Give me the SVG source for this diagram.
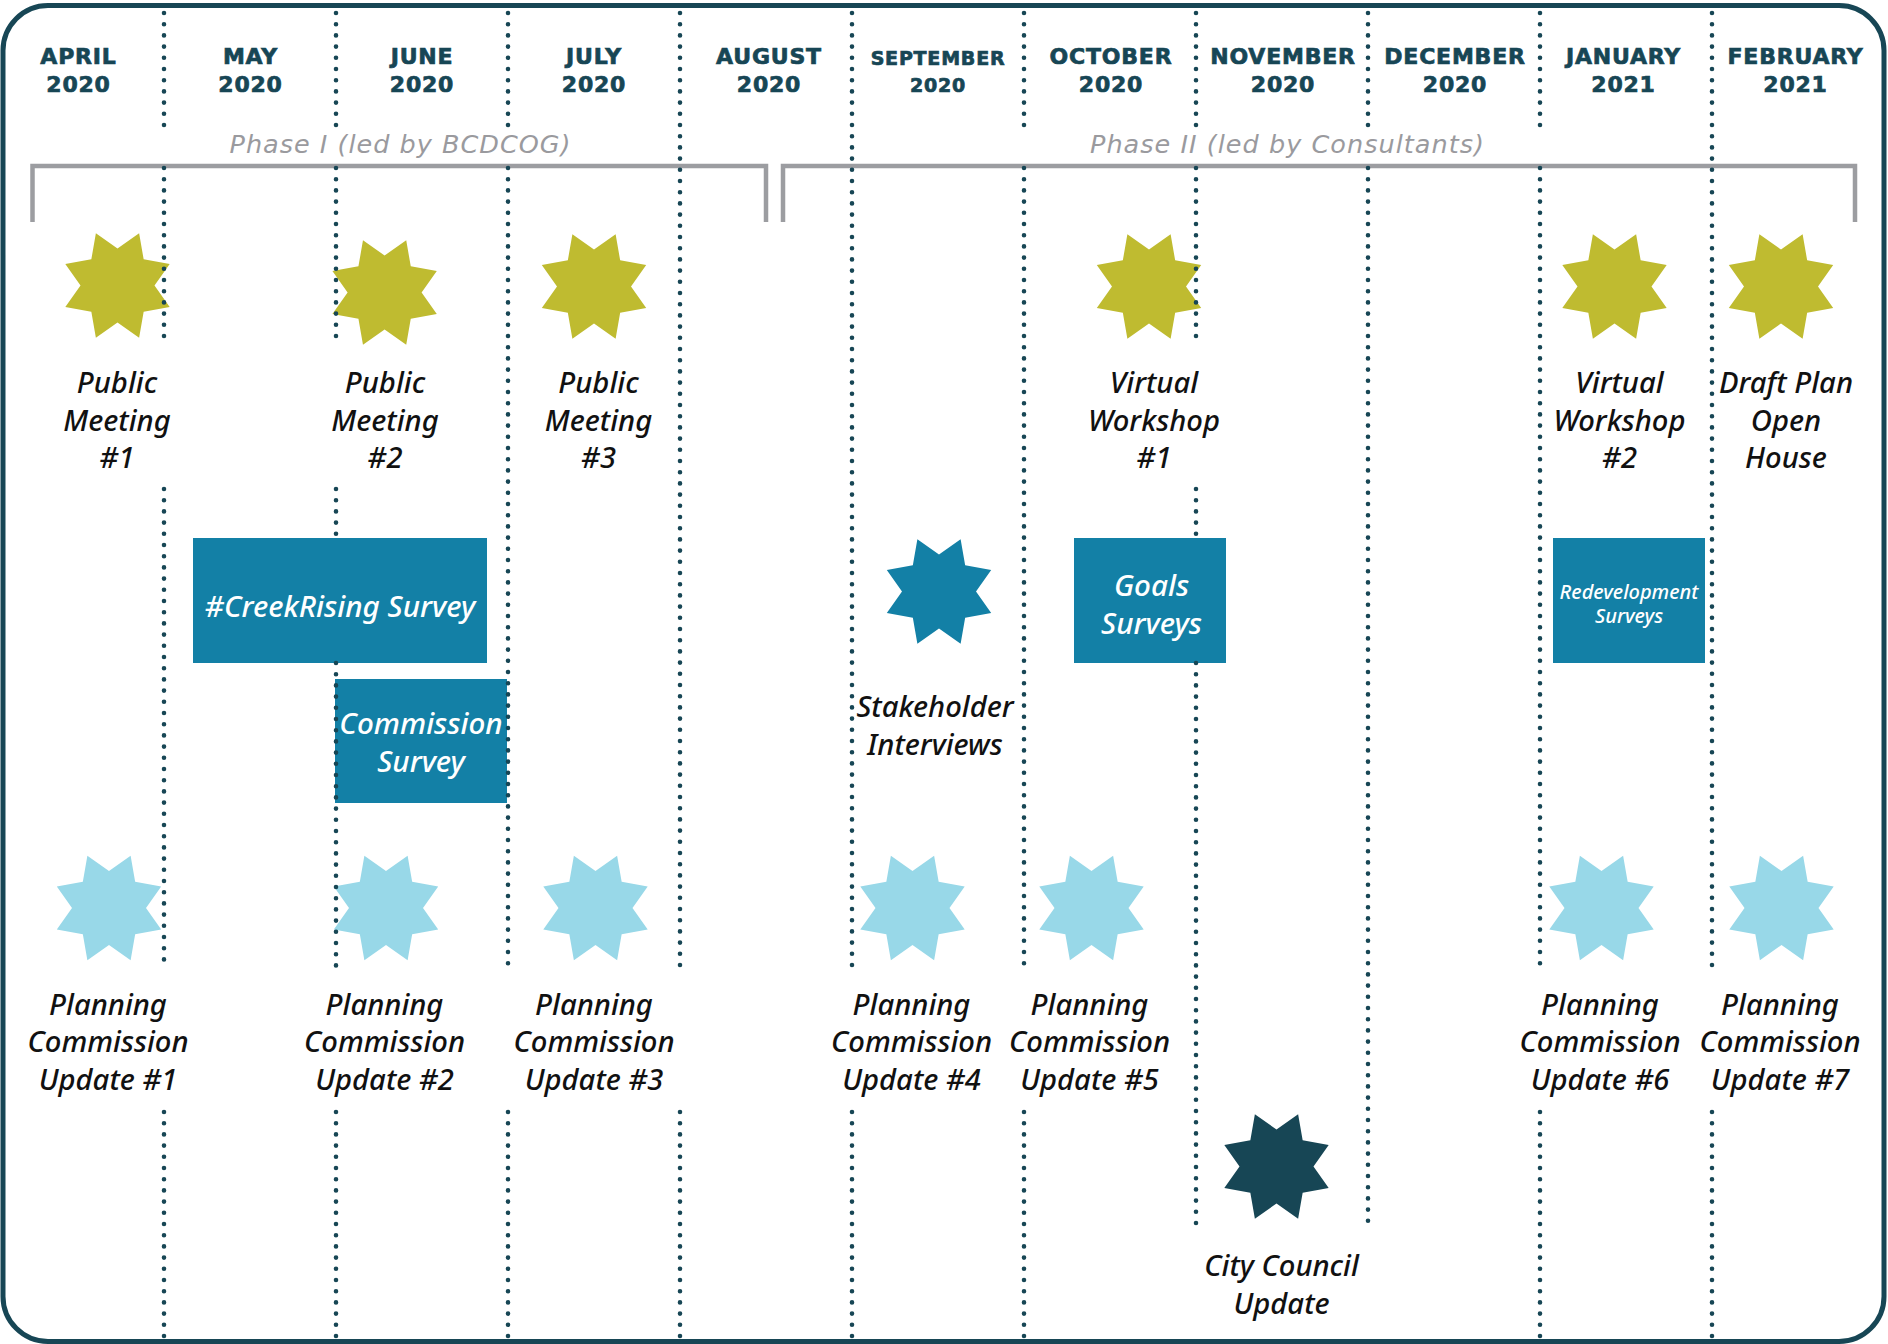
<svg xmlns="http://www.w3.org/2000/svg" xmlns:xlink="http://www.w3.org/1999/xlink" width="1888" height="1344" viewBox="0 0 1888 1344">
<style>
.hdr{font-family:"DejaVu Sans","Liberation Sans",sans-serif;font-weight:bold;font-size:22px;fill:#174655;stroke:#174655;stroke-width:0.7px;text-anchor:middle;letter-spacing:0.8px}
.hdr.sm{font-size:19px}
.phase{font-family:"DejaVu Sans","Liberation Sans",sans-serif;font-style:oblique;font-size:25.5px;fill:#9a9a9e;text-anchor:middle}
.lbl{font-family:"Noto Sans","Open Sans","Liberation Sans",sans-serif;font-style:italic;font-weight:500;font-size:29.2px;fill:#111111;text-anchor:middle}
.wlbl{font-family:"Noto Sans","Open Sans","Liberation Sans",sans-serif;font-style:italic;font-weight:500;font-size:29.6px;fill:#ffffff;text-anchor:middle}
.wlbl.sm{font-size:20px}
.box{fill:#1380a6}
.olive{fill:#bfbb30}
.teal{fill:#1380a6}
.light{fill:#98d8e8}
.dark{fill:#174655}
.bracket{fill:none;stroke:#9c9da1;stroke-width:4.5}
.dots{stroke:#174655;stroke-width:4.6;stroke-linecap:round;stroke-dasharray:0 11.2;fill:none}
</style>
<defs>
<path id="star" d="M0,-37 L21.62,-52.2 L26.16,-26.16 L52.2,-21.62 L37,0 L52.2,21.62 L26.16,26.16 L21.62,52.2 L0,37 L-21.62,52.2 L-26.16,26.16 L-52.2,21.62 L-37,0 L-52.2,-21.62 L-26.16,-26.16 L-21.62,-52.2 Z"/>
</defs>
<rect x="3" y="5.5" width="1881" height="1336" rx="45" ry="45" fill="#ffffff" stroke="#174655" stroke-width="5"/>

<g id="headers">
<text class="hdr" x="78.5" y="64">APRIL</text><text class="hdr" x="78.5" y="92">2020</text>
<text class="hdr" x="250.5" y="64">MAY</text><text class="hdr" x="250.5" y="92">2020</text>
<text class="hdr" x="422" y="64">JUNE</text><text class="hdr" x="422" y="92">2020</text>
<text class="hdr" x="594" y="64">JULY</text><text class="hdr" x="594" y="92">2020</text>
<text class="hdr" x="769" y="64">AUGUST</text><text class="hdr" x="769" y="92">2020</text>
<text class="hdr sm" x="938" y="65">SEPTEMBER</text><text class="hdr sm" x="938" y="92">2020</text>
<text class="hdr" x="1111" y="64">OCTOBER</text><text class="hdr" x="1111" y="92">2020</text>
<text class="hdr" x="1283" y="64">NOVEMBER</text><text class="hdr" x="1283" y="92">2020</text>
<text class="hdr" x="1455" y="64">DECEMBER</text><text class="hdr" x="1455" y="92">2020</text>
<text class="hdr" x="1623.5" y="64">JANUARY</text><text class="hdr" x="1623.5" y="92">2021</text>
<text class="hdr" x="1795.5" y="64">FEBRUARY</text><text class="hdr" x="1795.5" y="92">2021</text>
</g>

<g id="phase-1">
<polyline class="bracket" points="32.5,222 32.5,166 766,166 766,222"/>
<text class="phase" x="400" y="153" textLength="341" lengthAdjust="spacing">Phase I (led by BCDCOG)</text>
</g>
<g id="phase-2">
<polyline class="bracket" points="783,222 783,166 1855,166 1855,222"/>
<text class="phase" x="1287" y="152.5" textLength="394" lengthAdjust="spacing">Phase II (led by Consultants)</text>
</g>

<g id="stars">
<use xlink:href="#star" href="#star" class="olive" x="117.5" y="285.5"/>
<use xlink:href="#star" href="#star" class="olive" x="384.6" y="292.5"/>
<use xlink:href="#star" href="#star" class="olive" x="594" y="286.5"/>
<use xlink:href="#star" href="#star" class="olive" x="1149" y="286.5"/>
<use xlink:href="#star" href="#star" class="olive" x="1614.5" y="286.5"/>
<use xlink:href="#star" href="#star" class="olive" x="1781" y="286.5"/>
<use xlink:href="#star" href="#star" class="teal" x="939" y="591.5"/>
<use xlink:href="#star" href="#star" class="light" x="109" y="908"/>
<use xlink:href="#star" href="#star" class="light" x="386" y="908"/>
<use xlink:href="#star" href="#star" class="light" x="595.5" y="908"/>
<use xlink:href="#star" href="#star" class="light" x="912.5" y="908"/>
<use xlink:href="#star" href="#star" class="light" x="1091.5" y="908"/>
<use xlink:href="#star" href="#star" class="light" x="1601.5" y="908"/>
<use xlink:href="#star" href="#star" class="light" x="1781.5" y="908"/>
<use xlink:href="#star" href="#star" class="dark" x="1276.5" y="1166.5"/>
</g>

<g id="creekrising-survey">
<rect class="box" x="193" y="538" width="294" height="125"/>
<text class="wlbl" x="340" y="617">#CreekRising Survey</text>
</g>
<g id="commission-survey">
<rect class="box" x="335" y="679" width="172" height="124"/>
<text class="wlbl" x="421" y="734">Commission</text>
<text class="wlbl" x="421" y="771.5">Survey</text>
</g>
<g id="goals-surveys">
<rect class="box" x="1074" y="538" width="152" height="125"/>
<text class="wlbl" x="1151.5" y="596">Goals</text>
<text class="wlbl" x="1151.5" y="634">Surveys</text>
</g>
<g id="redevelopment-surveys">
<rect class="box" x="1553" y="538" width="152" height="125"/>
<text class="wlbl sm" x="1629" y="599.3">Redevelopment</text>
<text class="wlbl sm" x="1629" y="623.3">Surveys</text>
</g>

<g id="connectors">
<path class="dots" d="M164,13V125M164,168V345M164,489V970M164,1112V1341"/>
<path class="dots" d="M336,13V125M336,168V345M336,489V538M336,663V970M336,1112V1341"/>
<path class="dots" d="M508,13V125M508,168V970M508,1112V1341"/>
<path class="dots" d="M680,13V970M680,1112V1341"/>
<path class="dots" d="M852,13V970M852,1112V1341"/>
<path class="dots" d="M1024,13V125M1024,168V970M1024,1112V1341"/>
<path class="dots" d="M1196,13V125M1196,168V345M1196,489V538M1196,663V1223"/>
<path class="dots" d="M1368,13V125M1368,168V1223"/>
<path class="dots" d="M1540,13V125M1540,168V970M1540,1112V1341"/>
<path class="dots" d="M1712,13V970M1712,1112V1341"/>
</g>

<g id="public-meeting-1">
<text class="lbl" x="117" y="392.5">Public</text><text class="lbl" x="117" y="430.5">Meeting</text><text class="lbl" x="117" y="468">#1</text>
</g>
<g id="public-meeting-2">
<text class="lbl" x="385" y="392.5">Public</text><text class="lbl" x="385" y="430.5">Meeting</text><text class="lbl" x="385" y="468">#2</text>
</g>
<g id="public-meeting-3">
<text class="lbl" x="598.5" y="392.5">Public</text><text class="lbl" x="598.5" y="430.5">Meeting</text><text class="lbl" x="598.5" y="468">#3</text>
</g>
<g id="virtual-workshop-1">
<text class="lbl" x="1154" y="392.5">Virtual</text><text class="lbl" x="1154" y="430.5">Workshop</text><text class="lbl" x="1154" y="468">#1</text>
</g>
<g id="virtual-workshop-2">
<text class="lbl" x="1619.5" y="392.5">Virtual</text><text class="lbl" x="1619.5" y="430.5">Workshop</text><text class="lbl" x="1619.5" y="468">#2</text>
</g>
<g id="draft-plan-open-house">
<text class="lbl" x="1786" y="392.5">Draft Plan</text><text class="lbl" x="1786" y="430.5">Open</text><text class="lbl" x="1786" y="468">House</text>
</g>
<g id="stakeholder-interviews">
<text class="lbl" x="935" y="716.7">Stakeholder</text><text class="lbl" x="935" y="755">Interviews</text>
</g>
<g id="pc-update-1">
<text class="lbl" x="108" y="1015">Planning</text><text class="lbl" x="108" y="1052">Commission</text><text class="lbl" x="108" y="1089.5">Update #1</text>
</g>
<g id="pc-update-2">
<text class="lbl" x="384.5" y="1015">Planning</text><text class="lbl" x="384.5" y="1052">Commission</text><text class="lbl" x="384.5" y="1089.5">Update #2</text>
</g>
<g id="pc-update-3">
<text class="lbl" x="594" y="1015">Planning</text><text class="lbl" x="594" y="1052">Commission</text><text class="lbl" x="594" y="1089.5">Update #3</text>
</g>
<g id="pc-update-4">
<text class="lbl" x="911.5" y="1015">Planning</text><text class="lbl" x="911.5" y="1052">Commission</text><text class="lbl" x="911.5" y="1089.5">Update #4</text>
</g>
<g id="pc-update-5">
<text class="lbl" x="1089.5" y="1015">Planning</text><text class="lbl" x="1089.5" y="1052">Commission</text><text class="lbl" x="1089.5" y="1089.5">Update #5</text>
</g>
<g id="pc-update-6">
<text class="lbl" x="1600" y="1015">Planning</text><text class="lbl" x="1600" y="1052">Commission</text><text class="lbl" x="1600" y="1089.5">Update #6</text>
</g>
<g id="pc-update-7">
<text class="lbl" x="1780" y="1015">Planning</text><text class="lbl" x="1780" y="1052">Commission</text><text class="lbl" x="1780" y="1089.5">Update #7</text>
</g>
<g id="city-council-update">
<text class="lbl" x="1281.5" y="1276">City Council</text><text class="lbl" x="1281.5" y="1313.5">Update</text>
</g>
</svg>
